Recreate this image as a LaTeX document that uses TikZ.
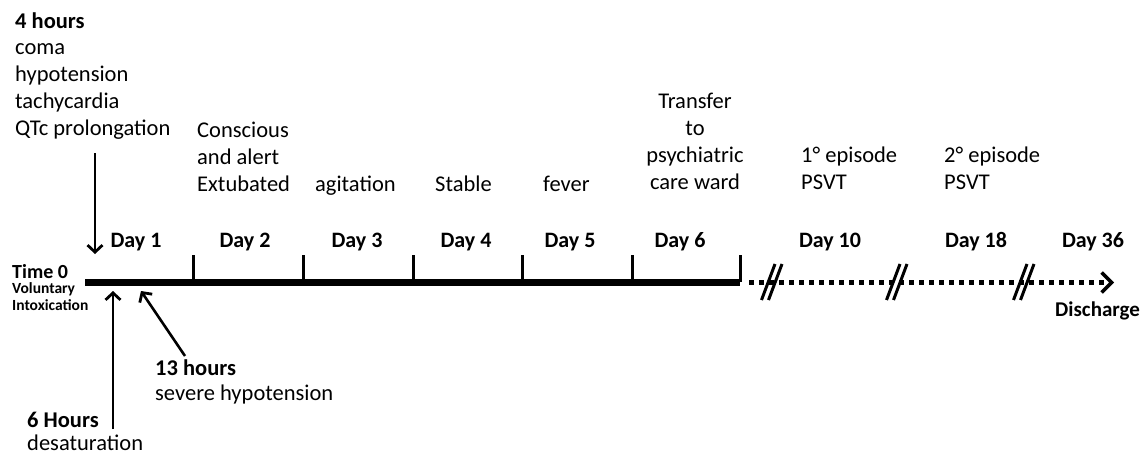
\documentclass[tikz,border=0pt]{standalone}
\usepackage{fontspec}
\setmainfont{Carlito}
\usetikzlibrary{arrows.meta}

% multi-line labels are placed by the baseline of their last line
\tikzset{
  lbl/.style={inner sep=0pt, anchor=base west, align=left,
    font=\fontsize{22.5}{26.7}\selectfont},
  lblc/.style={lbl, anchor=base, align=center},
  daylbl/.style={inner sep=0pt, anchor=base,
    font=\bfseries\fontsize{22}{26}\selectfont},
  axis/.style={line width=6.5pt},
  tick/.style={line width=3pt},
  evarrow/.style={line width=2.6pt,
    -{Straight Barb[length=7pt,width=15pt,line width=2.8pt]}},
  later/.style={line width=4.5pt, dash pattern=on 4.5pt off 5.5pt,
    -{Straight Barb[length=10pt,width=20pt,line width=3.5pt]}},
  brk/.style={line width=3pt},
}

\begin{document}
\begin{tikzpicture}[x=1pt,y=-1pt]
\useasboundingbox (0,0) rectangle (1142,455);

% --- timeline axis ---
\coordinate (t0) at (85,282.5);
\coordinate (d6end) at (740,282.5);
\draw[axis] (t0) -- (d6end);
\foreach \x/\n in {193/k1,303/k2,413/k3,522/k4,632/k5,740/k6}{
  \coordinate (\n) at (\x,282);
  \coordinate (\n top) at (\x,255);
  \draw[tick] (\n) -- (\n top);
}

% --- dotted continuation to discharge ---
\coordinate (dotstart) at (749,282.5);
\coordinate (dotend) at (1114,282.5);
\draw[later] (dotstart) -- (dotend);
\foreach \c/\n in {772/b1,897/b2,1024/b3}{
  \coordinate (\n) at (\c,282);
  \draw[brk] ([xshift=-10.5pt,yshift=-18pt]\n) -- ([xshift=3pt,yshift=18pt]\n);
  \draw[brk] ([xshift=-3.5pt,yshift=-18pt]\n) -- ([xshift=10pt,yshift=18pt]\n);
}

% --- day labels ---
\node[daylbl] (day1)  at (136,247) {Day 1};
\node[daylbl] (day2)  at (245,247) {Day 2};
\node[daylbl] (day3)  at (357,247) {Day 3};
\node[daylbl] (day4)  at (466,247) {Day 4};
\node[daylbl] (day5)  at (570,247) {Day 5};
\node[daylbl] (day6)  at (680,247) {Day 6};
\node[daylbl] (day10) at (830,247) {Day 10};
\node[daylbl] (day18) at (976,247) {Day 18};
\node[daylbl] (day36) at (1093,247) {Day 36};

% --- start of the timeline ---
\node[inner sep=0pt, anchor=base west, font=\bfseries\fontsize{20}{24}\selectfont]
  (time0) at (12,278) {Time 0};
\node[inner sep=0pt, anchor=base west, align=left,
      font=\bfseries\fontsize{15.5}{17}\selectfont]
  (intox) at (12,310) {Voluntary\\Intoxication};

% --- events above the axis ---
\node[lbl] (h4) at (15,135)
  {\textbf{4 hours}\\coma\\hypotension\\tachycardia\\QTc prolongation};
\node[lbl] (day2ev) at (197,191) {Conscious\\and alert\\Extubated};
\node[lbl] (day3ev) at (315,191) {agitation};
\node[lbl] (day4ev) at (435,191) {Stable};
\node[lbl] (day5ev) at (543,191) {fever};
\node[lblc] (day6ev) at (695,189) {Transfer\\to\\psychiatric\\care ward};
\node[lbl] (ep1) at (801,189) {1° episode\\PSVT};
\node[lbl] (ep2) at (944,189) {2° episode\\PSVT};

% --- events below the axis ---
\node[lbl, font=\fontsize{22.5}{25}\selectfont] (h13) at (155,400)
  {\textbf{13 hours}\\severe hypotension};
\node[lbl, font=\fontsize{22.5}{23}\selectfont] (h6) at (27,450)
  {\textbf{6 Hours}\\desaturation};
\node[inner sep=0pt, anchor=base west, font=\bfseries\fontsize{21}{25}\selectfont]
  (disch) at (1055,316) {Discharge};

% --- event arrows ---
\coordinate (a4from) at (95,153);
\coordinate (a4to) at (95,254);
\draw[evarrow] (a4from) -- (a4to);
\coordinate (a6from) at (113,429);
\coordinate (a6to) at (113,291);
\draw[evarrow] (a6from) -- (a6to);
\coordinate (a13from) at (185,356);
\coordinate (a13to) at (141,291);
\draw[evarrow] (a13from) -- (a13to);
\end{tikzpicture}
\end{document}
